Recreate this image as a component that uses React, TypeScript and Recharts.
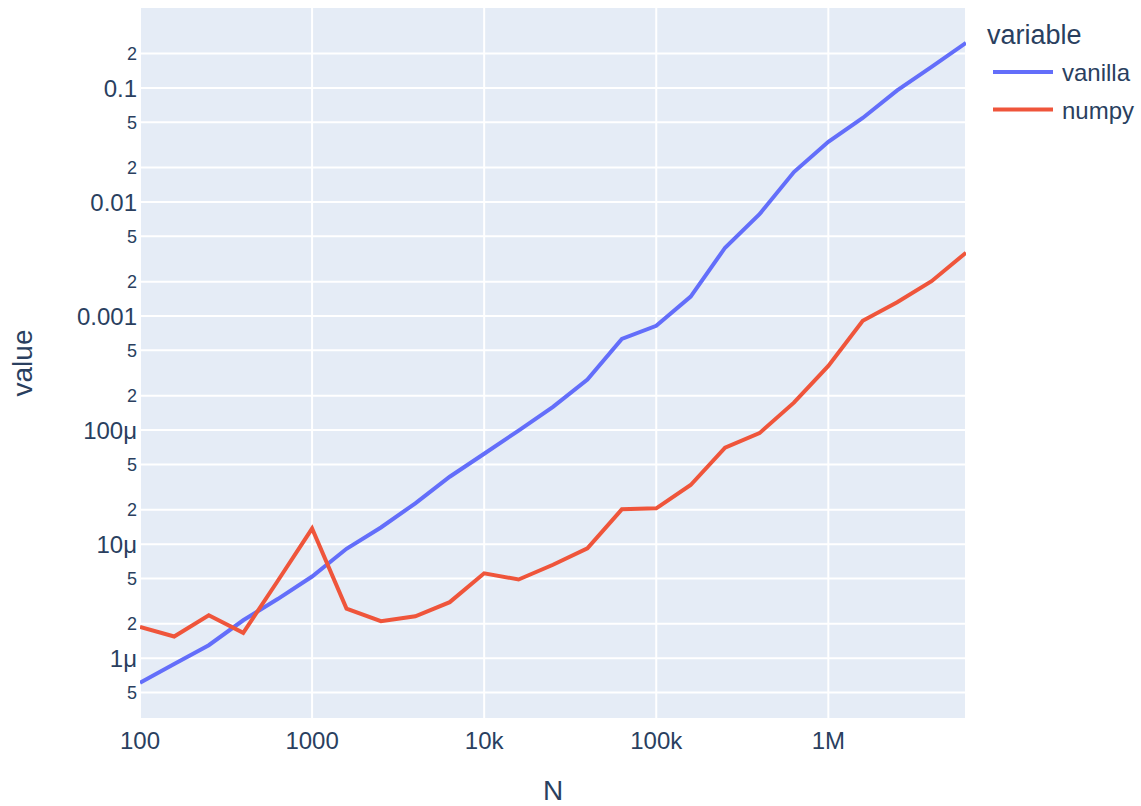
import React from 'react'
import { LineChart, Line, XAxis, YAxis, CartesianGrid } from 'recharts'

const FONT = '"Liberation Sans", Arial, sans-serif'
const TEXT = '#2a3f5f'

// problem size N (log spaced)
const sizes = [
  100, 158, 251, 398, 631, 1000, 1585, 2512, 3981, 6310, 10000, 15849, 25119,
  39811, 63096, 100000, 158489, 251189, 398107, 630957, 1000000, 1584893,
  2511886, 3981072, 6309573,
]

// timings in seconds
const vanilla = [
  6.1e-7, 8.9e-7, 1.3e-6, 2.15e-6, 3.3e-6, 5.2e-6, 9.1e-6, 1.4e-5, 2.28e-5,
  3.9e-5, 6.2e-5, 9.9e-5, 1.6e-4, 2.77e-4, 6.3e-4, 8.2e-4, 1.48e-3, 3.97e-3,
  7.8e-3, 0.0183, 0.0337, 0.0545, 0.095, 0.153, 0.248,
]
const numpy = [
  1.88e-6, 1.55e-6, 2.38e-6, 1.67e-6, 4.75e-6, 1.37e-5, 2.72e-6, 2.11e-6,
  2.33e-6, 3.1e-6, 5.55e-6, 4.9e-6, 6.6e-6, 9.2e-6, 2.02e-5, 2.06e-5, 3.3e-5,
  7.0e-5, 9.4e-5, 1.74e-4, 3.65e-4, 9.1e-4, 1.32e-3, 2.02e-3, 3.59e-3,
]

const xTicks = [100, 1000, 10000, 100000, 1000000]
const xTickLabels = ['100', '1000', '10k', '100k', '1M']

const yTicks = [
  5e-7, 1e-6, 2e-6, 5e-6, 1e-5, 2e-5, 5e-5, 1e-4, 2e-4, 5e-4, 1e-3, 2e-3, 5e-3,
  0.01, 0.02, 0.05, 0.1, 0.2,
]
const yTickLabels = [
  '5', '1μ', '2', '5', '10μ', '2', '5', '100μ', '2', '5', '0.001', '2', '5',
  '0.01', '2', '5', '0.1', '2',
]

const series = [
  { key: 'vanilla', color: '#636EFA' },
  { key: 'numpy', color: '#EF553B' },
]

const data = sizes.map((n, i) => ({ N: n, vanilla: vanilla[i], numpy: numpy[i] }))

const XTick = ({ x, y, payload }: any) => {
  const i = xTicks.indexOf(payload.value)
  return (
    <text x={x} y={y} dy={28} textAnchor="middle" fontSize={24} fill={TEXT} fontFamily={FONT}>
      {xTickLabels[i]}
    </text>
  )
}

const YTick = ({ x, y, payload }: any) => {
  const i = yTicks.indexOf(payload.value)
  const label = yTickLabels[i]
  const minor = label === '2' || label === '5'
  return (
    <text
      x={x}
      y={y}
      dy={minor ? 6.6 : 9}
      textAnchor="end"
      fontSize={minor ? 18 : 24}
      fill={TEXT}
      fontFamily={FONT}
    >
      {label}
    </text>
  )
}

const YTitle = () => (
  <text
    x={32}
    y={363}
    textAnchor="middle"
    fontSize={28}
    fill={TEXT}
    fontFamily={FONT}
    transform="rotate(-90, 32, 363)"
  >
    value
  </text>
)

const XTitle = () => (
  <text x={553} y={800} textAnchor="middle" fontSize={28} fill={TEXT} fontFamily={FONT}>
    N
  </text>
)

export default function App() {
  return (
    <div
      style={{
        position: 'absolute',
        left: 0,
        top: 0,
        width: 1141,
        height: 806,
        background: '#fff',
        fontFamily: FONT,
      }}
    >
      <LineChart width={1141} height={806} data={data} margin={{ top: 7, right: 175, bottom: 0, left: 0 }}>
        <CartesianGrid fill="#E5ECF6" stroke="#fff" strokeWidth={2} />
        <XAxis
          dataKey="N"
          type="number"
          scale="log"
          domain={[100, 6309573]}
          allowDataOverflow
          ticks={xTicks}
          interval={0}
          height={87}
          axisLine={false}
          tickLine={false}
          tickSize={0}
          tick={<XTick />}
          label={<XTitle />}
        />
        <YAxis
          type="number"
          scale="log"
          domain={[2.93e-7, 0.512]}
          allowDataOverflow
          ticks={yTicks}
          interval={0}
          width={140}
          axisLine={false}
          tickLine={false}
          tickSize={0}
          tickMargin={3}
          tick={<YTick />}
          label={<YTitle />}
        />
        {series.map((s) => (
          <Line
            key={s.key}
            type="linear"
            dataKey={s.key}
            stroke={s.color}
            strokeWidth={4}
            dot={false}
            isAnimationActive={false}
          />
        ))}
      </LineChart>
      <svg
        width={1141}
        height={806}
        style={{ position: 'absolute', left: 0, top: 0, pointerEvents: 'none' }}
      >
        <text x={987} y={44} fontSize={27} fill={TEXT} fontFamily={FONT}>
          variable
        </text>
        {series.map((s, i) => (
          <g key={s.key}>
            <line x1={993} x2={1053} y1={72 + i * 37.6} y2={72 + i * 37.6} stroke={s.color} strokeWidth={4} />
            <text x={1062} y={81 + i * 37.6} fontSize={24} fill={TEXT} fontFamily={FONT}>
              {s.key}
            </text>
          </g>
        ))}
      </svg>
    </div>
  )
}
